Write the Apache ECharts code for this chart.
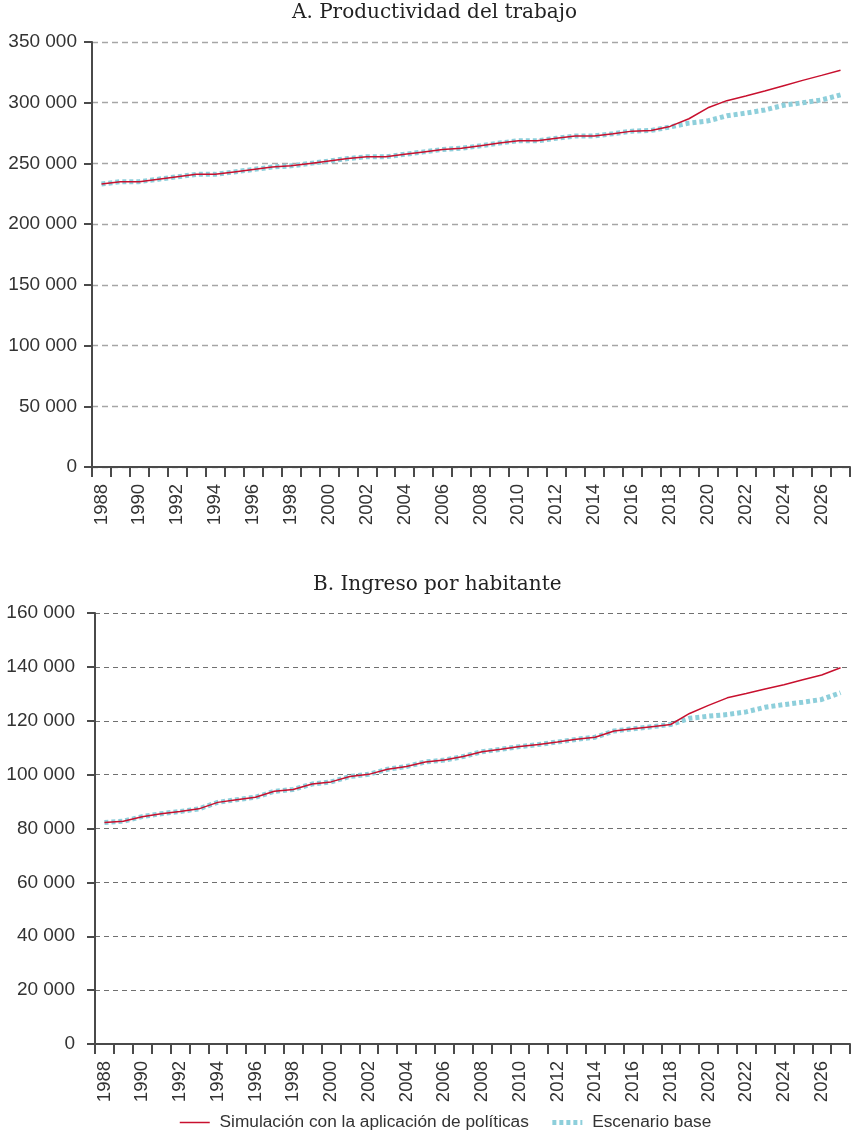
<!DOCTYPE html>
<html>
<head>
<meta charset="utf-8">
<script src="https://cdn.jsdelivr.net/npm/echarts@6/dist/echarts.min.js"></script>
<style>
  html, body { margin: 0; padding: 0; background: #fff; }
  #chart { width: 852px; height: 1131px; }
</style>
</head>
<body>
<div id="chart"></div>
<script>
// Years shown on both horizontal axes
const years = [];
for (let y = 1988; y <= 2027; y++) years.push(String(y));

// A. Labour productivity
const productividadPoliticas = [
  233000, 235000, 235000, 237000, 239000, 241000, 241000, 243000, 245000, 247000,
  248000, 250000, 252000, 254000, 255500, 255500, 257500, 259500, 261500, 262500,
  264500, 266800, 268700, 268700, 270700, 272600, 272600, 274500, 276600, 277200,
  280500, 286800, 295800, 301700, 305600, 309600, 314000, 318400, 322500, 326800
];
const productividadBase = [
  233000, 235000, 235000, 237000, 239000, 241000, 241000, 243000, 245000, 247000,
  248000, 250000, 252000, 254000, 255500, 255500, 257500, 259500, 261500, 262500,
  264500, 266800, 268700, 268700, 270700, 272600, 272600, 274500, 276600, 277200,
  280000, 283200, 285000, 289200, 291400, 294000, 297900, 300000, 302300, 306400
];

// B. Income per inhabitant
const ingresoPoliticas = [
  82200, 82700, 84400, 85500, 86300, 87300, 89700, 90700, 91600, 93800,
  94500, 96500, 97300, 99300, 100100, 102000, 103000, 104700, 105400, 106700,
  108500, 109400, 110400, 111200, 112100, 113100, 113900, 116200, 117000, 117800,
  118600, 122700, 125700, 128500, 130100, 131800, 133400, 135200, 137000, 139700
];
const ingresoBase = [
  82200, 82700, 84400, 85500, 86300, 87300, 89700, 90700, 91600, 93800,
  94500, 96500, 97300, 99300, 100100, 102000, 103000, 104700, 105400, 106700,
  108500, 109400, 110400, 111200, 112100, 113100, 113900, 116200, 117000, 117800,
  118600, 120900, 121700, 122300, 123300, 125000, 126000, 126900, 127900, 130400
];

const titles = ['A. Productividad del trabajo', 'B. Ingreso por habitante'];
const seriesNames = ['Simulación con la aplicación de políticas', 'Escenario base'];

const RED = '#c8102e';
const BLUE = '#8ecfdb';
const AXIS = '#4a4a4a';
const SANS = '"Liberation Sans", Arial, sans-serif';
const SERIF = '"DejaVu Serif", serif';

// thousands separated by a space: 350 000
const fmt = v => String(v).replace(/\B(?=(\d{3})+(?!\d))/g, ' ');

function xAxis(gridIndex) {
  return {
    type: 'category', gridIndex, data: years, boundaryGap: true,
    axisLine: { lineStyle: { color: AXIS, width: 2 } },
    axisTick: { show: true, interval: 0, length: 10, lineStyle: { color: AXIS, width: 2 } },
    axisLabel: { interval: 1, rotate: 90, margin: 17, fontFamily: SANS, fontSize: 18.5, color: '#333' },
    splitLine: { show: false }
  };
}
function yAxis(gridIndex, max, interval, margin, grid) {
  return {
    type: 'value', gridIndex, min: 0, max, interval,
    axisLine: { show: true, lineStyle: { color: AXIS, width: 2 } },
    axisTick: { show: true, length: 8, lineStyle: { color: AXIS, width: 2 } },
    axisLabel: { formatter: fmt, margin, fontFamily: SANS, fontSize: 19, color: '#333' },
    splitLine: { show: true, lineStyle: grid }
  };
}

const titleStyle = { fontFamily: SERIF, fontSize: 20, fontWeight: 'normal', color: '#222' };

const chart = echarts.init(document.getElementById('chart'), null, { renderer: 'canvas' });
chart.setOption({
  animation: false,
  backgroundColor: '#fff',
  title: [
    { text: titles[0], left: 292, top: 3, padding: 0, textStyle: titleStyle },
    { text: titles[1], left: 313, top: 575, padding: 0, textStyle: titleStyle }
  ],
  grid: [
    { left: 92, right: 2, top: 42, height: 425 },
    { left: 95, right: 2, top: 613, height: 431 }
  ],
  xAxis: [xAxis(0), xAxis(1)],
  yAxis: [
    yAxis(0, 350000, 50000, 15, { color: '#a6a6a6', width: 1.4, type: [6, 4] }),
    yAxis(1, 160000, 20000, 20, { color: '#707070', width: 1, type: [5, 4] })
  ],
  legend: {
    orient: 'horizontal', left: 174, top: 1109, itemWidth: 30, itemHeight: 14, itemGap: 21,
    formatter: name => ' ' + name,
    itemStyle: { opacity: 0 },
    textStyle: { fontFamily: SANS, fontSize: 17.3, color: '#333' },
    data: [
      { name: seriesNames[0], lineStyle: { width: 1.5 } },
      { name: seriesNames[1], lineStyle: { width: 5 } }
    ]
  },
  series: [
    { name: seriesNames[1], type: 'line', xAxisIndex: 0, yAxisIndex: 0, data: productividadBase,
      symbol: 'none', z: 2, lineStyle: { color: BLUE, width: 5, type: [4, 3], cap: 'butt' }, itemStyle: { color: BLUE } },
    { name: seriesNames[0], type: 'line', xAxisIndex: 0, yAxisIndex: 0, data: productividadPoliticas,
      symbol: 'none', z: 3, lineStyle: { color: RED, width: 1.5 }, itemStyle: { color: RED } },
    { name: seriesNames[1], type: 'line', xAxisIndex: 1, yAxisIndex: 1, data: ingresoBase,
      symbol: 'none', z: 2, lineStyle: { color: BLUE, width: 5, type: [4, 3], cap: 'butt' }, itemStyle: { color: BLUE } },
    { name: seriesNames[0], type: 'line', xAxisIndex: 1, yAxisIndex: 1, data: ingresoPoliticas,
      symbol: 'none', z: 3, lineStyle: { color: RED, width: 1.5 }, itemStyle: { color: RED } }
  ]
});
</script>
</body>
</html>
